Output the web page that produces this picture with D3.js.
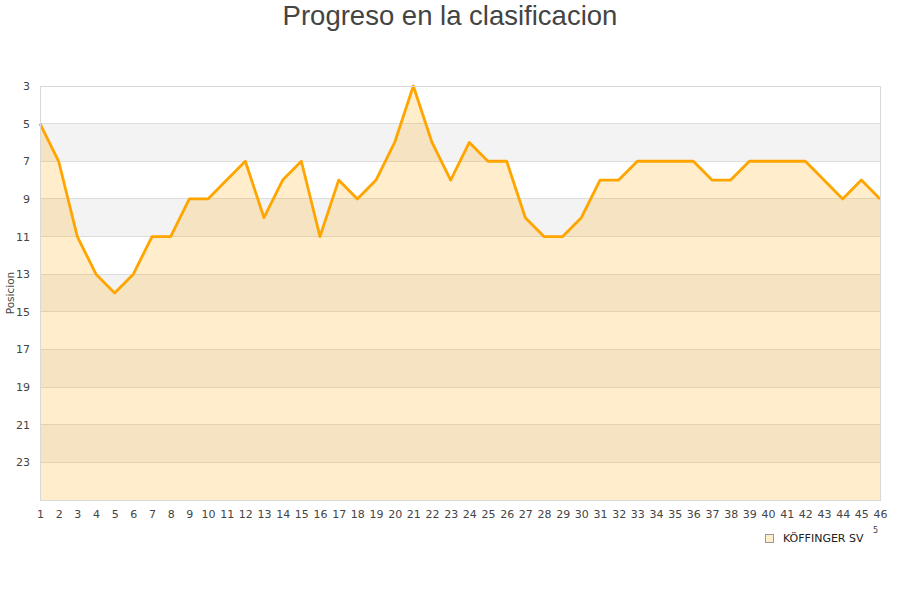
<!DOCTYPE html>
<html><head><meta charset="utf-8">
<script src="https://cdn.jsdelivr.net/npm/d3@7"></script>
<style>body{margin:0;background:#fff}</style>
</head><body>
<script>
const jornadas = d3.range(1, 47);
const posiciones = [5,7,11,13,14,13,11,11,9,9,8,7,10,8,7,11,8,9,8,6,3,6,8,6,7,7,10,11,11,10,8,8,7,7,7,7,8,8,7,7,7,7,8,9,8,9];
const yTicks = [3,5,7,9,11,13,15,17,19,21,23];
const seriesName = "KÖFFINGER SV";
const title = "Progreso en la clasificacion";
const yLabel = "Posicion";

const W = 900, H = 600;
const m = {l:40, r:20, t:86, b:100};
const svg = d3.select("body").append("svg").attr("width", W).attr("height", H);
const x = d3.scaleLinear().domain([1,46]).range([m.l, W-m.r]);
const y = d3.scaleLinear().domain([3,25]).range([m.t, H-m.b]);

// bands
const bandStarts = d3.range(3, 25, 2);
svg.append("g").selectAll("rect").data(bandStarts).join("rect")
  .attr("x", x(1)).attr("width", x(46)-x(1))
  .attr("y", d => y(d)).attr("height", d => y(d+2)-y(d))
  .attr("fill", (d,i) => i%2 ? "#f3f3f3" : "#ffffff");
// grid
svg.append("g").selectAll("line").data(yTicks.slice(1)).join("line")
  .attr("x1", x(1)).attr("x2", x(46)).attr("y1", d=>y(d)).attr("y2", d=>y(d))
  .attr("stroke", "#dddddd").attr("stroke-width", 1).attr("shape-rendering","crispEdges");

// area
const area = d3.area().x((d,i)=>x(jornadas[i])).y0(y(25)).y1(d=>y(d));
svg.append("path").datum(posiciones).attr("d", area).attr("fill", "rgba(255,165,0,0.2)");
const line = d3.line().x((d,i)=>x(jornadas[i])).y(d=>y(d));
svg.append("path").datum(posiciones).attr("d", line).attr("fill","none")
  .attr("stroke","#ffa500").attr("stroke-width",2.8).attr("stroke-linejoin","round");

// border
svg.append("rect").attr("x", x(1)+0.5).attr("y", y(3)+0.5).attr("width", x(46)-x(1)).attr("height", y(25)-y(3))
  .attr("fill","none").attr("stroke","#d8d8d8").attr("shape-rendering","crispEdges");

// axes
const font = "DejaVu Sans, sans-serif";
const yAxis = svg.append("g").attr("transform", `translate(${m.l},0)`)
  .call(d3.axisLeft(y).tickValues(yTicks).tickSize(0).tickPadding(10));
yAxis.select(".domain").remove();
yAxis.selectAll("text").attr("font-family", font).attr("font-size", 11).attr("fill", "#444");
const xAxis = svg.append("g").attr("transform", `translate(0,${H-m.b})`)
  .call(d3.axisBottom(x).tickValues(jornadas).tickFormat(d3.format("d")).tickSize(0).tickPadding(10));
xAxis.select(".domain").remove();
xAxis.selectAll("text").attr("font-family", font).attr("font-size", 11).attr("fill", "#444");

svg.append("text").attr("x", 450).attr("y", 25).attr("text-anchor","middle")
  .attr("font-family","Liberation Sans, Arial, sans-serif").attr("font-size", 27.5).attr("fill","#444").text(title);
svg.append("text").attr("transform", `translate(14,${(y(3)+y(25))/2}) rotate(-90)`).attr("text-anchor","middle")
  .attr("font-family", font).attr("font-size", 10.5).attr("fill","#444").text(yLabel);

// legend
svg.append("rect").attr("x", 765.5).attr("y", 534.5).attr("width", 8).attr("height", 8)
  .attr("fill","#ffedcc").attr("stroke","#999");
svg.append("text").attr("x", 783).attr("y", 542).attr("font-family", font).attr("font-size", 11)
  .attr("fill","#222").text(seriesName);
svg.append("text").attr("x", 873).attr("y", 533).attr("font-family", font).attr("font-size", 8)
  .attr("fill","#444").text("5");
</script>
</body></html>
